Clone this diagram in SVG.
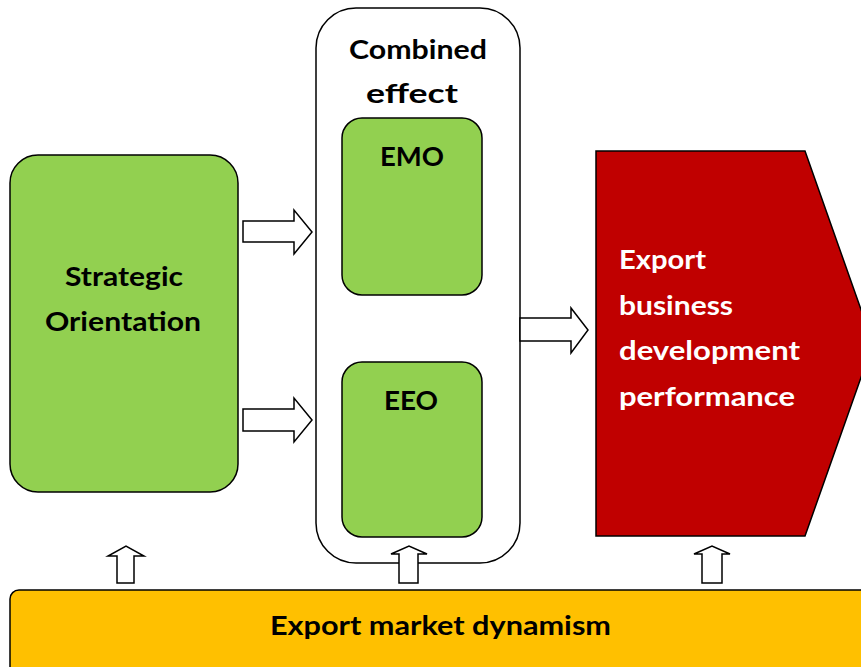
<svg xmlns="http://www.w3.org/2000/svg" width="861" height="667" viewBox="0 0 861 667">
<style>
.t{font-family:Lato,"Open Sans","Liberation Sans",sans-serif;font-weight:bold;font-size:26px;fill:#000}
.w{fill:#fff}
.arr{fill:#fff;stroke:#000;stroke-width:1.5;stroke-linejoin:miter}
.g{fill:#92D050;stroke:#000;stroke-width:1.5}
</style>
<rect width="861" height="667" fill="#fff"/>
<g id="strategic-orientation">
<rect class="g" x="10" y="155" width="228" height="337" rx="28" ry="28"/>
<text class="t" x="124" y="286" text-anchor="middle" textLength="118" lengthAdjust="spacingAndGlyphs">Strategic</text>
<text class="t" x="123" y="331" text-anchor="middle" textLength="156" lengthAdjust="spacingAndGlyphs">Orientation</text>
</g>
<g id="combined-effect">
<rect x="316" y="8" width="204" height="555" rx="40" ry="40" fill="#fff" stroke="#000" stroke-width="1.5"/>
<text class="t" x="418" y="59" text-anchor="middle" textLength="138" lengthAdjust="spacingAndGlyphs">Combined</text>
<text class="t" x="412" y="103" text-anchor="middle" textLength="92" lengthAdjust="spacingAndGlyphs">effect</text>
</g>
<g id="emo">
<rect class="g" x="342" y="118" width="140" height="177" rx="20" ry="20"/>
<text class="t" x="412" y="166" text-anchor="middle" textLength="64" lengthAdjust="spacingAndGlyphs">EMO</text>
</g>
<g id="eeo">
<rect class="g" x="342" y="362" width="140" height="175" rx="20" ry="20"/>
<text class="t" x="411" y="410" text-anchor="middle" textLength="54" lengthAdjust="spacingAndGlyphs">EEO</text>
</g>
<g id="export-performance">
<polygon points="596,151 805,151 873,343.5 805,536 596,536" fill="#C00000" stroke="#000" stroke-width="1.5"/>
<text class="t w" x="619" y="269" textLength="87" lengthAdjust="spacingAndGlyphs">Export</text>
<text class="t w" x="619" y="315" textLength="114" lengthAdjust="spacingAndGlyphs">business</text>
<text class="t w" x="619" y="360" textLength="181" lengthAdjust="spacingAndGlyphs">development</text>
<text class="t w" x="619" y="406" textLength="176" lengthAdjust="spacingAndGlyphs">performance</text>
</g>
<g id="export-market-dynamism">
<rect x="10" y="590" width="900" height="120" rx="9" ry="9" fill="#FFC000" stroke="#000" stroke-width="1.5"/>
<text class="t" x="270" y="635" textLength="341" lengthAdjust="spacingAndGlyphs">Export market dynamism</text>
</g>
<g id="connectors">
<polygon class="arr" points="243,221 294,221 294,210 312,232 294,254 294,242 243,242"/>
<polygon class="arr" points="243,409 294,409 294,398 312,420 294,442 294,431 243,431"/>
<polygon class="arr" points="520,318 571,318 571,308 588,330 571,353 571,341 520,341"/>
<polygon class="arr" points="117,583 117,556 108,556 126,546 144,556 134,556 134,583"/>
<polygon class="arr" points="399,583 399,554 391,554 409,546 427,554 418,554 418,583"/>
<polygon class="arr" points="702,583 702,554 694,554 712,546 730,554 722,554 722,583"/>
</g>
</svg>
